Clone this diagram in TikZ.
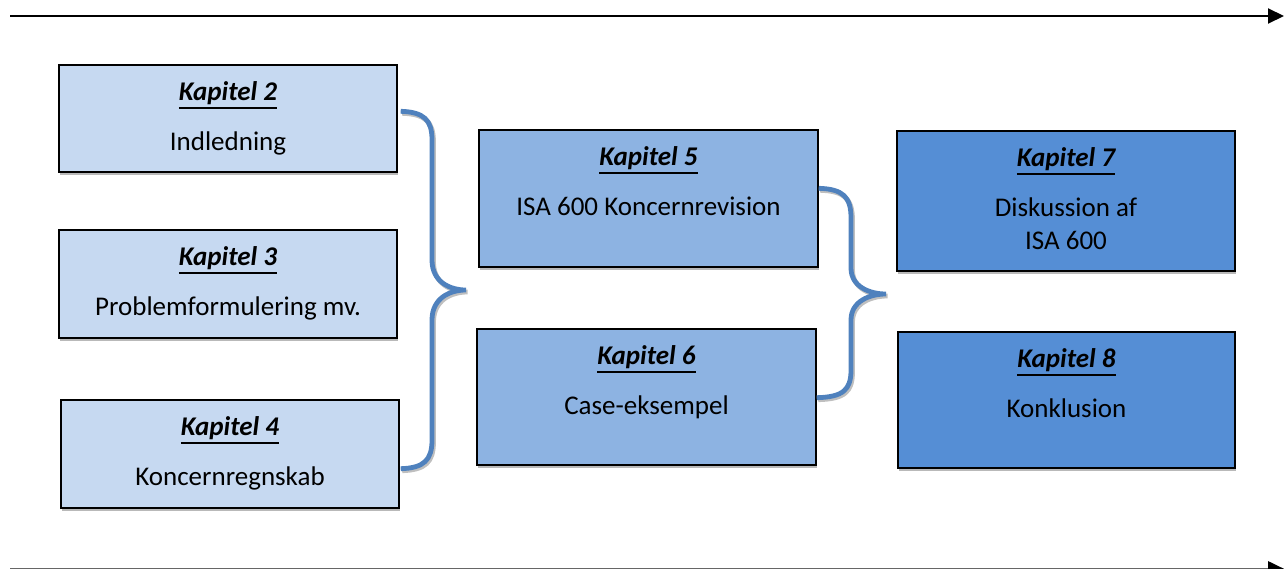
\documentclass[tikz,border=0pt]{standalone}
\usepackage{fontspec}
\setmainfont{Carlito}
\usetikzlibrary{arrows.meta,calc,shadows}
\definecolor{lightb}{HTML}{C6D9F1}
\definecolor{midb}{HTML}{8DB3E2}
\definecolor{darkb}{HTML}{558ED5}
\definecolor{braceblue}{HTML}{4F81BD}
\newlength\kapdp
\newcommand\kapitel[1]{\setbox0\hbox{#1}\setlength\kapdp{\dp0}\addtolength\kapdp{4pt}\leavevmode\rlap{\rule[-\kapdp]{\wd0}{2pt}}\box0}
\tikzset{
  box/.style={draw=black, line width=1.4pt, inner sep=0pt,
    drop shadow={shadow xshift=1pt, shadow yshift=-3pt, fill=gray!55, opacity=1}},
  kap/.style={anchor=base, inner sep=0pt, font=\fontsize{27}{32}\selectfont\bfseries\itshape},
  txt/.style={anchor=base, inner sep=0pt, font=\fontsize{27}{32}\selectfont},
  brace/.style={draw=braceblue, line width=4.8pt,
    preaction={draw=gray!50, line width=4.8pt, transform canvas={shift={(1.5pt,-2pt)}}}},
  timeline/.style={draw=black, line width=2pt, -{Triangle[length=16pt,width=15pt,color=black]}}
}
\begin{document}
\begin{tikzpicture}[x=1pt,y=-1pt]
\useasboundingbox (0,0) rectangle (1288,568);
% timelines
\coordinate (tl0) at (10,16);
\coordinate (tl1) at (1284,16);
\draw[timeline] (tl0) -- (tl1);
\coordinate (bl0) at (10,568.8);
\coordinate (bl1) at (1284,568.8);
\draw[timeline, draw=black!60] (bl0) -- (bl1);
% boxes
\node[box, fill=lightb, minimum width=338pt, minimum height=107pt] (b2) at (228,118.5) {};
\node[box, fill=lightb, minimum width=338pt, minimum height=108pt] (b3) at (228,284) {};
\node[box, fill=lightb, minimum width=338pt, minimum height=108pt] (b4) at (230,454) {};
\node[box, fill=midb, minimum width=339pt, minimum height=137pt] (b5) at (648.5,198.5) {};
\node[box, fill=midb, minimum width=339pt, minimum height=136pt] (b6) at (646.5,397) {};
\node[box, fill=darkb, minimum width=338pt, minimum height=140pt] (b7) at (1066,201) {};
\node[box, fill=darkb, minimum width=337pt, minimum height=136pt] (b8) at (1066.5,400) {};
% texts
\node[kap] (k2) at ([yshift=-36pt]b2.north) {\kapitel{Kapitel 2}};
\node[txt] (t2) at ([yshift=-86pt]b2.north) {Indledning};
\node[kap] (k3) at ([yshift=-36pt]b3.north) {\kapitel{Kapitel 3}};
\node[txt] (t3) at ([yshift=-86pt]b3.north) {Problemformulering mv.};
\node[kap] (k4) at ([yshift=-36pt]b4.north) {\kapitel{Kapitel 4}};
\node[txt] (t4) at ([yshift=-86pt]b4.north) {Koncernregnskab};
\node[kap] (k5) at ([yshift=-36pt]b5.north) {\kapitel{Kapitel 5}};
\node[txt] (t5) at ([yshift=-86pt]b5.north) {ISA 600 Koncernrevision};
\node[kap] (k6) at ([yshift=-36pt]b6.north) {\kapitel{Kapitel 6}};
\node[txt] (t6) at ([yshift=-86pt]b6.north) {Case-eksempel};
\node[kap] (k7) at ([yshift=-36pt]b7.north) {\kapitel{Kapitel 7}};
\node[txt] (t7a) at ([yshift=-86pt]b7.north) {Diskussion af};
\node[txt] (t7b) at ([yshift=-119pt]b7.north) {ISA 600};
\node[kap] (k8) at ([yshift=-36pt]b8.north) {\kapitel{Kapitel 8}};
\node[txt] (t8) at ([yshift=-86pt]b8.north) {Konklusion};
% brace 1
\coordinate (s1) at ($(b2.north east)+(3,47)$);
\coordinate (e1) at ($(b4.south east)+(1,-40)$);
\coordinate (p1) at (466,290);
\draw[brace] (s1) .. controls (424,112) and (432,120) .. (432,140)
  -- (432,260) .. controls (432,282) and (450,290) .. (p1)
  .. controls (450,290) and (432,298) .. (432,320)
  -- (432,440) .. controls (432,460) and (424,468) .. (e1);
% brace 2
\coordinate (s2) at ($(b5.north east)+(0,59)$);
\coordinate (e2) at ($(b6.south east)+(0,-68)$);
\coordinate (p2) at (886,294);
\draw[brace] (s2) .. controls (843,189) and (851,197) .. (851,218)
  -- (851,268) .. controls (851,287) and (870,294) .. (p2)
  .. controls (870,294) and (851,301) .. (851,320)
  -- (851,370) .. controls (851,390) and (843,397) .. (e2);
\end{tikzpicture}
\end{document}
